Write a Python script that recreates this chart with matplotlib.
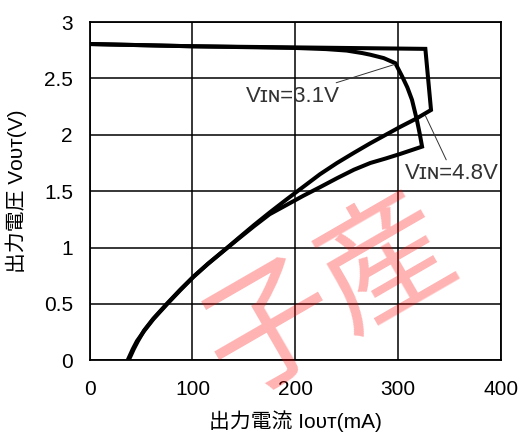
import matplotlib
matplotlib.use('Agg')
import matplotlib.pyplot as plt

plt.rcParams['font.family'] = ['Liberation Sans', 'Noto Sans CJK JP', 'DejaVu Sans']

# ----------- DATA -----------
# VIN = 4.8V : flat top, sharp corner, then fold back toward the origin
iout_48 = [0, 100, 200, 326.5, 332, 318, 302, 288, 273, 257, 240.6, 224, 208, 192, 175,
           160, 145, 133.5, 115, 101, 88, 75, 62, 53, 47, 43, 40, 38]
vout_48 = [2.805, 2.785, 2.775, 2.762, 2.22, 2.145, 2.07, 2.0, 1.925, 1.84, 1.75, 1.65, 1.54, 1.43, 1.31,
           1.2, 1.085, 0.995, 0.855, 0.742, 0.625, 0.5, 0.37, 0.265, 0.17, 0.1, 0.04, 0.0]

# VIN = 3.1V : rounded knee, then fold back
iout_31 = [0, 100, 200, 230, 250, 265, 273, 286, 297.3, 303.8, 309, 313.5, 318.3, 321, 323.3,
           302, 288, 273, 257, 240.6, 224, 208, 192, 175, 160, 145, 133.5, 115, 101, 88, 75, 62, 53, 46, 42, 39, 37]
vout_31 = [2.805, 2.785, 2.77, 2.76, 2.747, 2.725, 2.71, 2.68, 2.635, 2.52, 2.42, 2.31, 2.13, 2.01, 1.895,
           1.83, 1.79, 1.75, 1.69, 1.615, 1.535, 1.46, 1.38, 1.295, 1.19, 1.08, 0.995, 0.855, 0.74, 0.62, 0.495, 0.365, 0.26, 0.17, 0.1, 0.04, 0.0]

xticks = [0, 100, 200, 300, 400]
yticks = [0, 0.5, 1, 1.5, 2, 2.5, 3]
ytick_labels = ['0', '0.5', '1', '1.5', '2', '2.5', '3']

# ----------- PLOT -----------
fig = plt.figure(figsize=(5.24, 4.32), dpi=100)
ax = fig.add_axes([0.171, 0.166, 0.785, 0.783])

ax.plot(iout_48, vout_48, color='black', lw=2.9, solid_joinstyle='miter', zorder=3)
ax.plot(iout_31, vout_31, color='black', lw=2.9, solid_joinstyle='miter', zorder=3)

ax.set_xlim(0, 400)
ax.set_ylim(0, 3)
ax.set_xticks(xticks)
ax.set_yticks(yticks)
ax.set_yticklabels(ytick_labels)
ax.tick_params(length=0, labelsize=15, pad=12)
ax.tick_params(axis='x', pad=14)
ax.grid(True, color='black', lw=1.1)
for s in ax.spines.values():
    s.set_linewidth(1.3)

ax.set_xlabel('出力電流 Iᴏᴜᴛ(mA)', fontsize=15, labelpad=8)
ax.set_ylabel('出力電圧 Vᴏᴜᴛ(V)', fontsize=15, labelpad=12)

# annotations
ax.annotate('Vɪɴ=3.1V', xy=(297, 2.625), xytext=(243, 2.34),
            fontsize=16, color='#333333', ha='right', va='center',
            arrowprops=dict(arrowstyle='-', lw=0.7, color='#333333', shrinkA=1, shrinkB=0))
ax.annotate('Vɪɴ=4.8V', xy=(326.5, 2.17), xytext=(307, 1.66),
            fontsize=16, color='#333333', ha='left', va='center',
            arrowprops=dict(arrowstyle='-', lw=0.7, color='#333333', shrinkA=0, shrinkB=0,
                            relpos=(0.45, 1.0)))

# watermark (kept inside the figure)
fig.text(0.63, 0.31, '子産', fontsize=95, color='red', alpha=0.3, rotation=30,
         ha='center', va='center', family=['Noto Sans CJK JP'], zorder=10)

fig.savefig('out.png', dpi=100)
